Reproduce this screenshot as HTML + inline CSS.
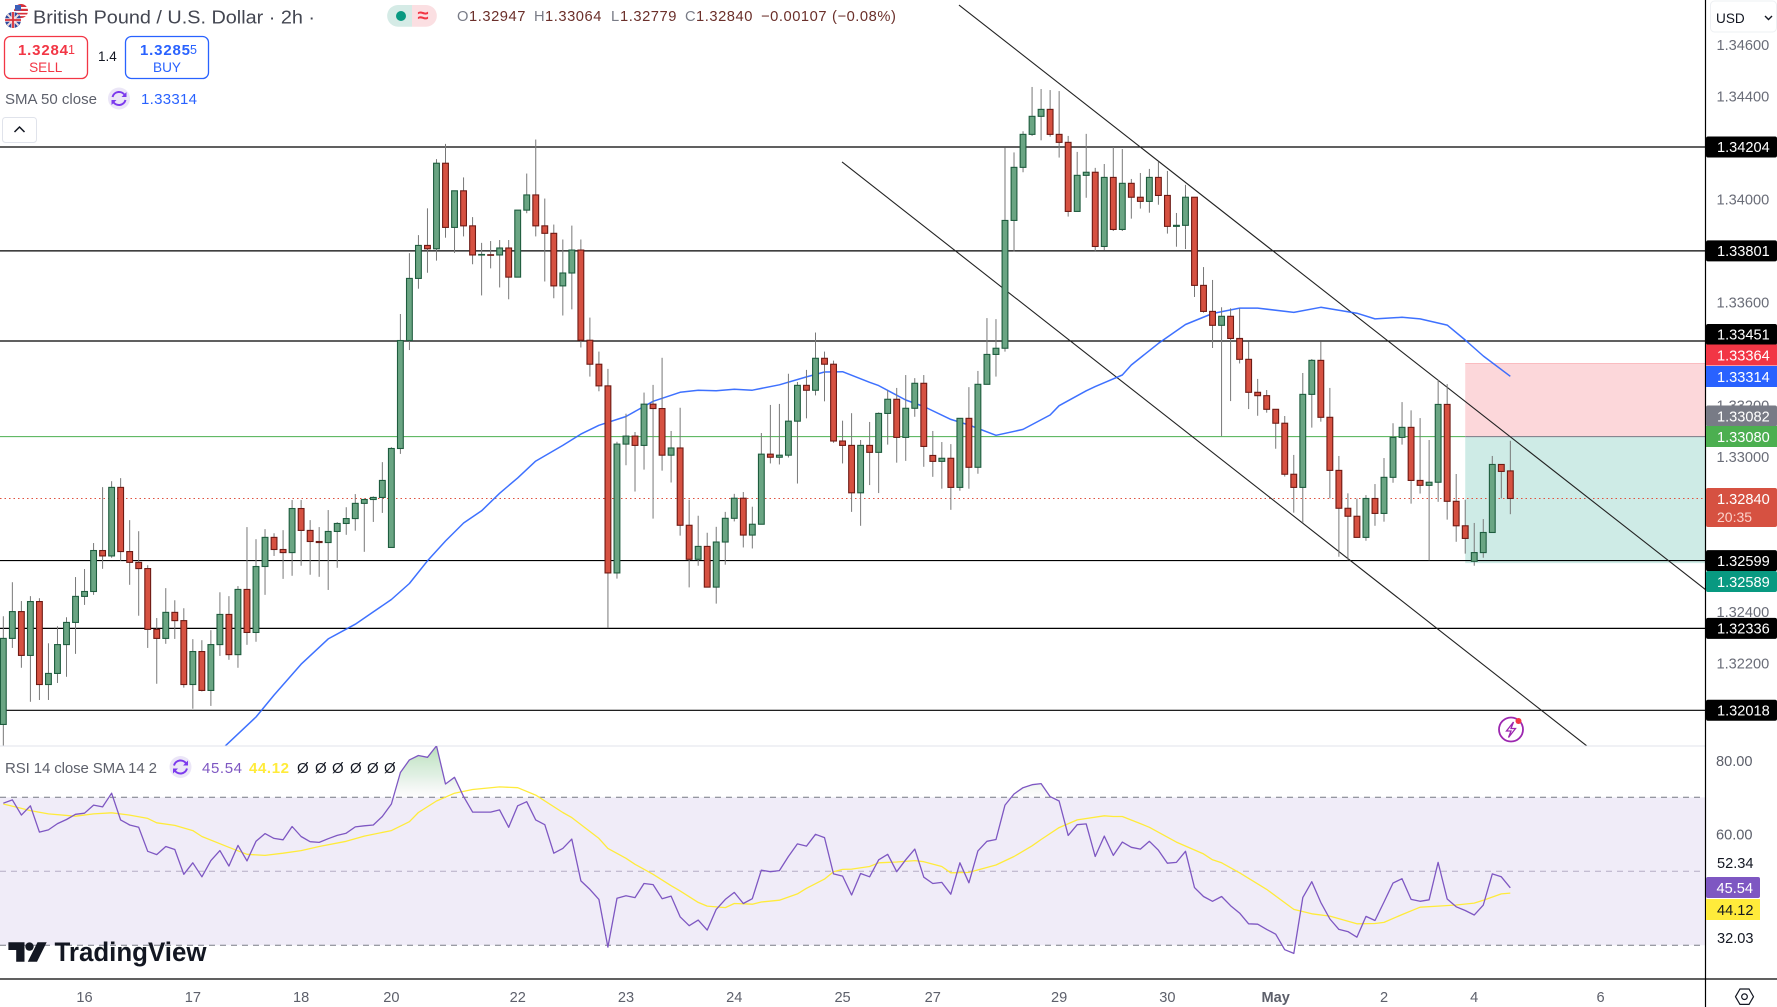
<!DOCTYPE html>
<html lang="en">
<head>
<meta charset="utf-8">
<title>British Pound / U.S. Dollar 2h chart</title>
<style>
html,body{margin:0;padding:0;background:#fff;width:1777px;height:1007px;overflow:hidden}
svg{display:block;font-family:"Liberation Sans",sans-serif}
text{font-family:"Liberation Sans",sans-serif}
</style>
</head>
<body>
<svg id="chart" xmlns="http://www.w3.org/2000/svg" width="1777" height="1007" viewBox="0 0 1777 1007">
  <defs>
    <clipPath id="mainClip"><rect x="0" y="0" width="1705" height="746"/></clipPath>
    <clipPath id="rsiClip"><rect x="0" y="746" width="1705" height="233"/></clipPath>
    <clipPath id="obClip"><rect x="0" y="746" width="1705" height="51"/></clipPath>
    <linearGradient id="obGrad" gradientUnits="userSpaceOnUse" x1="0" y1="748" x2="0" y2="797">
      <stop offset="0" stop-color="#4caf50" stop-opacity="0.38"/>
      <stop offset="0.55" stop-color="#8fc99a" stop-opacity="0.28"/>
      <stop offset="1" stop-color="#bbbbbb" stop-opacity="0.03"/>
    </linearGradient>
  </defs>
  <rect x="0" y="0" width="1777" height="1007" fill="#ffffff"/>

  <g id="mainUnder" clip-path="url(#mainClip)"></g>
  <g id="mainCandles" clip-path="url(#mainClip)"></g>

  <line x1="0" y1="746" x2="1705" y2="746" stroke="#e0e3eb" stroke-width="1"/>
  <g id="rsiPane"></g>

  <line x1="0" y1="979" x2="1777" y2="979" stroke="#000" stroke-width="1.2"/>
  <line x1="1705.5" y1="0" x2="1705.5" y2="1007" stroke="#000" stroke-width="1.2"/>

  <g id="priceAxis"></g>
  <g id="timeAxis"></g>

  <!-- static axis tags -->
  <g><rect x="1706" y="344.5" width="71" height="21" fill="#f23645"/><text x="1717" y="360.5" font-size="14.6" fill="#fff">1.33364</text></g>
  <g><rect x="1706" y="366" width="71" height="21" fill="#2962ff"/><text x="1717" y="382" font-size="14.6" fill="#fff">1.33314</text></g>
  <g><rect x="1706" y="405.5" width="71" height="21" rx="2" fill="#787b86"/><text x="1717" y="421.5" font-size="14.6" fill="#fff">1.33082</text></g>
  <g><rect x="1706" y="426" width="71" height="21" fill="#4caf50"/><text x="1717" y="442" font-size="14.6" fill="#fff">1.33080</text></g>
  <g><rect x="1706" y="488" width="71" height="39" rx="2" fill="#d65141"/><text x="1717" y="504" font-size="14.6" fill="#fff">1.32840</text><text x="1717" y="522" font-size="14" fill="#fbd3cc">20:35</text></g>
  <g><rect x="1706" y="571" width="71" height="21" rx="2" fill="#089981"/><text x="1717" y="587" font-size="14.6" fill="#fff">1.32589</text></g>

  <text x="1716" y="766" font-size="14.6" fill="#5d606b">80.00</text>
  <text x="1716" y="839.5" font-size="14.6" fill="#5d606b">60.00</text>
  <text x="1717" y="868" font-size="14.6" fill="#131722">52.34</text>
  <g><rect x="1706" y="877" width="54" height="21" rx="2" fill="#7e57c2"/><text x="1716.5" y="893" font-size="14.6" fill="#fff">45.54</text></g>
  <g><rect x="1706" y="899" width="54" height="21" fill="#ffeb3b"/><text x="1717" y="915" font-size="14.6" fill="#131722">44.12</text></g>
  <text x="1717" y="943" font-size="14.6" fill="#131722">32.03</text>

  <!-- header -->
  <g>
    <circle cx="21" cy="11" r="7" fill="#d8303a"/>
    <rect x="14" y="7" width="14" height="1.8" fill="#fff"/><rect x="14" y="11" width="14" height="1.8" fill="#fff"/><rect x="15" y="14.5" width="12" height="1.6" fill="#fff"/>
    <rect x="15" y="5" width="6" height="5.5" fill="#3d5fb8"/>
    <circle cx="13" cy="20" r="8" fill="#2c4a9e"/>
    <path d="M7.5 14.5 L18.5 25.5 M18.5 14.5 L7.5 25.5" stroke="#f3dadc" stroke-width="2"/>
    <path d="M13 12 V28 M5 20 H21" stroke="#f3dadc" stroke-width="3.4"/>
    <path d="M13 12 V28 M5 20 H21" stroke="#d8303a" stroke-width="1.8"/>
  </g>
  <text x="33" y="23.5" font-size="18.8" fill="#434651" textLength="282" lengthAdjust="spacingAndGlyphs">British Pound / U.S. Dollar · 2h ·</text>

  <g>
    <path d="M398 5 H412 V26.7 H398 A10.8 10.8 0 0 1 398 5 Z" fill="#d5ebe6"/>
    <path d="M412 5 H426 A10.8 10.8 0 0 1 426 26.7 H412 Z" fill="#fbdfe2"/>
    <circle cx="401" cy="16" r="5" fill="#089981"/>
    <text x="423" y="22" font-size="20" font-weight="700" fill="#f23645" text-anchor="middle">≈</text>
  </g>

  <g font-size="14.7" letter-spacing="0.55">
    <text x="457" y="21" fill="#787b86">O</text><text x="469" y="21" fill="#6b2f2a">1.32947</text>
    <text x="534" y="21" fill="#787b86">H</text><text x="545" y="21" fill="#6b2f2a">1.33064</text>
    <text x="611" y="21" fill="#787b86">L</text><text x="620" y="21" fill="#6b2f2a">1.32779</text>
    <text x="685" y="21" fill="#787b86">C</text><text x="696" y="21" fill="#6b2f2a">1.32840</text>
    <text x="761" y="21" fill="#6b2f2a">−0.00107</text>
    <text x="832" y="21" fill="#6b2f2a">(−0.08%)</text>
  </g>

  <g>
    <rect x="4.5" y="36.5" width="83" height="42" rx="6" fill="#fff" stroke="#f23645" stroke-width="1.3"/>
    <text x="18" y="55" font-size="15" fill="#f23645" font-weight="700" textLength="50" lengthAdjust="spacing">1.3284</text>
    <text x="68" y="54" font-size="12.5" fill="#f23645">1</text>
    <text x="45.7" y="72" font-size="13.6" fill="#f23645" text-anchor="middle">SELL</text>
  </g>
  <text x="98" y="61" font-size="13.5" fill="#131722">1.4</text>
  <g>
    <rect x="125.5" y="36.5" width="83" height="42" rx="6" fill="#fff" stroke="#2962ff" stroke-width="1.3"/>
    <text x="140" y="55" font-size="15" fill="#2962ff" font-weight="700" textLength="50" lengthAdjust="spacing">1.3285</text>
    <text x="190" y="54" font-size="12.5" fill="#2962ff">5</text>
    <text x="167" y="72" font-size="13.6" fill="#2962ff" text-anchor="middle">BUY</text>
  </g>

  <text x="5" y="104" font-size="15" fill="#5d606b" textLength="92" lengthAdjust="spacing">SMA 50 close</text>
  <g>
    <circle cx="119" cy="98.5" r="11" fill="#ebe6f7"/>
    <path d="M112.5 97 A6.8 6.8 0 0 1 125 95.5 M125.5 100 A6.8 6.8 0 0 1 113 101.5" fill="none" stroke="#7c3aed" stroke-width="2"/>
    <path d="M126.5 92 V97 H121.5 Z M111.5 105 V100 H116.5 Z" fill="#7c3aed"/>
  </g>
  <text x="141" y="104" font-size="15" fill="#2962ff" textLength="56" lengthAdjust="spacing">1.33314</text>

  <g>
    <rect x="2.5" y="117.5" width="34" height="25" rx="3" fill="#fff" stroke="#e0e3eb" stroke-width="1"/>
    <path d="M14.5 132 L19.5 127 L24.5 132" fill="none" stroke="#131722" stroke-width="1.5"/>
  </g>

  <g>
    <rect x="1710.5" y="1" width="66" height="31" rx="4" fill="#fff" stroke="#eef0f3" stroke-width="1"/>
    <text x="1716" y="23" font-size="13.6" fill="#131722">USD</text>
    <path d="M1765 16 L1768.5 19.5 L1772 16" fill="none" stroke="#131722" stroke-width="1.4"/>
  </g>

  <g>
    <circle cx="1511" cy="729.5" r="12" fill="#fff" stroke="#9c27b0" stroke-width="1.8"/>
    <path d="M1513.5 722 L1506.5 731 H1511 L1508.5 737.5 L1515.5 728.5 H1511 Z" fill="none" stroke="#9c27b0" stroke-width="1.3"/>
    <circle cx="1518.5" cy="721" r="3" fill="#f23645"/>
  </g>

  <!-- RSI legend -->
  <text x="5" y="773" font-size="15" fill="#5d606b" textLength="152" lengthAdjust="spacing">RSI 14 close SMA 14 2</text>
  <g>
    <circle cx="180.5" cy="767" r="11" fill="#ebe6f7"/>
    <path d="M174 765.5 A6.8 6.8 0 0 1 186.5 764 M187 768.5 A6.8 6.8 0 0 1 174.5 770" fill="none" stroke="#7c3aed" stroke-width="2"/>
    <path d="M188 760.5 V765.5 H183 Z M173 773.5 V768.5 H178 Z" fill="#7c3aed"/>
  </g>
  <text x="202" y="773" font-size="15" fill="#7e57c2" textLength="40" lengthAdjust="spacing">45.54</text>
  <text x="249" y="773" font-size="15" font-weight="700" fill="#ffeb3b" textLength="40" lengthAdjust="spacing">44.12</text>
  <g font-size="15" fill="#131722">
    <text x="297" y="773">Ø</text><text x="315" y="773">Ø</text><text x="332" y="773">Ø</text><text x="350" y="773">Ø</text><text x="367" y="773">Ø</text><text x="384" y="773">Ø</text>
  </g>

  <!-- logo -->
  <g>
    <path d="M8.4 942.3 H24.5 V961.7 H16.2 V950 H8.4 Z" fill="#131722"/>
    <circle cx="29.5" cy="946.6" r="4.2" fill="#131722"/>
    <path d="M37.5 942.3 H46.7 L37 961.7 H27.8 Z" fill="#131722"/>
    <text x="54.5" y="961" font-size="27" font-weight="700" fill="#131722" textLength="152" lengthAdjust="spacingAndGlyphs">TradingView</text>
  </g>

  <g>
    <path d="M1735.5 996.7 L1740 989 H1749 L1753.5 996.7 L1749 1004.4 H1740 Z" fill="#fff" stroke="#131722" stroke-width="1.2"/>
    <circle cx="1744.5" cy="996.7" r="2.8" fill="#fff" stroke="#131722" stroke-width="1.2"/>
  </g>
</svg>

<script>
// OHLC data per 2h bar, in price points (1 point = 0.00001)
const opens = [131963,132297,132401,132231,132440,132118,132161,132273,132359,132460,
132479,132638,132617,132883,132634,132592,132568,132332,132297,132398,
132366,132118,132246,132095,132273,132390,132234,132487,132320,132576,
132689,132642,132630,132801,132716,132673,132669,132712,132743,132762,
132821,132836,132844,132650,133034,133453,133694,133822,133809,134141,
133892,134034,133898,133785,133786,133785,133812,133699,133959,134018,
133898,133869,133665,133715,133804,133454,133361,133277,132551,133051,
133082,133046,133206,133189,133008,133036,132736,132604,132654,132496,
132671,132763,132841,132698,132740,133012,133000,133008,133140,133279,
133260,133384,133361,133063,133046,132862,133046,133019,133170,133225,
133077,133190,133287,133007,132984,132996,132883,133151,132961,133283,
133399,133423,133919,134125,134253,134323,134350,134253,134222,133954,
134094,134106,133818,134086,133884,134063,134009,133993,134086,134016,
133896,133900,134009,133667,133566,133512,133547,133461,133380,133252,
133239,133186,133132,132934,132883,133244,133376,133155,132949,132802,
132771,132689,132840,132782,132922,133077,133116,132910,132891,132903,
133205,132829,132734,132596,132630,132708,132972,132947];
const highs = [132383,132515,132442,132461,132453,132278,132344,132379,132535,132566,
132667,132884,132907,132919,132756,132713,132581,132376,132492,132445,
132414,132294,132290,132329,132476,132461,132500,132729,132682,132721,
132705,132717,132834,132834,132756,132729,132795,132748,132806,132857,
132840,132848,132981,133039,133556,133792,133862,133966,134157,134216,
134034,134086,133932,133832,133839,133843,133843,133959,134101,134233,
134004,133903,133845,133899,133845,133542,133410,133343,133060,133169,
133098,133251,133281,133386,133102,133192,132835,132773,132707,132730,
132788,132858,132865,132808,133094,133203,133207,133324,133292,133339,
133484,133410,133375,133142,133171,133067,133137,133174,133261,133269,
133319,133307,133319,133102,133059,133051,133151,133272,133335,133540,
133536,134203,134183,134265,134437,134429,134425,134421,134247,134185,
134255,134123,134138,134204,134196,134080,134103,134119,134146,134111,
133948,134057,134009,133738,133688,133582,133578,133578,133450,133304,
133261,133186,133160,133009,133327,133381,133450,133269,133005,132860,
132840,132853,132896,132997,133132,133214,133182,133152,133067,133300,
133284,132935,132835,132745,132760,133005,132972,133064];
const lows = [131860,132260,132183,132051,132058,132058,132124,132148,132237,132427,
132466,132567,132610,132598,132505,132385,132260,132121,132276,132295,
132106,132024,132091,132035,132229,132214,132183,132272,132284,132466,
132617,132528,132540,132579,132544,132536,132485,132571,132699,132715,
132633,132749,132784,132650,133013,133416,133654,133716,133763,133852,
133793,133857,133749,133628,133733,133659,133613,133699,133947,133857,
133682,133617,133550,133574,133426,133313,133256,132337,132529,132969,
132867,132952,132762,132948,132902,132696,132495,132579,132496,132432,
132583,132751,132650,132646,132740,132976,132972,132999,132898,133151,
133240,133217,133056,132976,132788,132734,132892,132861,133049,132979,
132986,133157,132963,132924,132878,132796,132870,132878,132936,133283,
133313,133410,133799,134106,134247,134230,134244,134163,133934,133954,
134007,133800,133804,133878,133878,133926,133965,133949,133980,133868,
133817,133808,133622,133561,133424,133082,133218,133364,133187,133161,
133173,133033,132925,132785,132745,133115,133138,132840,132614,132600,
132689,132676,132734,132750,132901,133049,132820,132859,132600,132827,
132758,132672,132626,132579,132610,132708,132840,132779];
const closes = [132297,132401,132231,132440,132118,132161,132273,132359,132460,132479,
132638,132617,132883,132634,132592,132568,132332,132297,132398,132366,
132118,132246,132095,132273,132390,132234,132487,132320,132576,132689,
132642,132630,132801,132716,132673,132669,132712,132743,132762,132821,
132836,132844,132910,133034,133453,133694,133822,133809,134141,133892,
134034,133898,133785,133787,133784,133812,133699,133959,134018,133898,
133869,133665,133715,133804,133454,133361,133277,132551,133051,133082,
133046,133206,133189,133008,133036,132736,132604,132654,132496,132671,
132763,132841,132698,132740,133012,133000,133008,133140,133279,133260,
133384,133361,133063,133046,132862,133046,133019,133170,133225,133077,
133190,133287,133042,132984,132996,132883,133151,132961,133283,133399,
133423,133919,134125,134253,134323,134350,134253,134222,133954,134094,
134106,133818,134086,133884,134063,134009,133993,134086,134016,133896,
133900,134009,133667,133566,133512,133547,133461,133380,133252,133239,
133186,133132,132934,132883,133244,133376,133155,132949,132802,132771,
132689,132840,132782,132922,133077,133116,132910,132891,132903,133205,
132829,132734,132685,132630,132708,132972,132945,132840];

// SMA 50 read at selected bars
const smaBars = [24,28,30,33,36,39,41,43,45,47,49,51,53,55,57,59,62,64,66,69,72,75,77,79,81,83,86,89,91,93,96,97,100,102,105,107,110,113,116,117,120,121,124,125,128,131,134,137,139,143,146,150,152,155,157,160,162,164,167];
const smaValues = [131860,131992,132077,132197,132295,132352,132400,132448,132510,132598,132675,132745,132792,132860,132920,132985,133046,133090,133124,133158,133217,133252,133260,133258,133264,133260,133281,133312,133331,133332,133291,133278,133222,133197,133147,133125,133085,133108,133164,133200,133258,133274,133319,133358,133442,133515,133558,133579,133579,133562,133582,133559,133537,133543,133537,133513,133455,133393,133314];

// RSI 14 per bar
const rsiValues = [68.4,69.3,65.2,67.7,60.6,61.2,62.9,64.0,65.4,65.7,
67.9,67.4,71.1,63.9,62.5,61.9,55.4,54.5,56.7,55.9,
49.2,52.3,48.5,52.9,55.6,51.4,57.0,52.8,58.1,60.2,
58.9,58.5,62.1,59.4,58.0,57.8,58.8,59.7,60.3,62.0,
62.3,62.5,64.8,68.2,76.7,80.1,81.3,80.8,83.9,73.6,
75.4,70.2,66.0,66.0,66.0,66.6,61.9,67.7,68.8,63.9,
62.6,54.9,56.2,58.7,47.4,45.1,42.4,29.5,42.7,43.4,
42.9,46.7,46.4,42.6,43.3,37.7,35.3,36.8,34.1,39.7,
42.4,44.3,41.3,42.6,50.3,49.9,50.2,54.0,57.4,56.8,
60.0,59.1,49.3,48.7,43.6,49.4,48.5,53.1,54.6,49.9,
53.1,56.0,48.4,46.7,47.0,43.8,52.3,46.9,55.5,58.1,
58.6,67.9,70.9,72.6,73.4,73.7,70.2,69.0,59.7,62.6,
62.8,54.0,59.5,54.3,57.9,56.5,56.0,58.1,55.7,52.2,
52.4,55.4,45.6,43.2,41.9,43.2,40.7,38.7,35.8,35.7,
34.3,33.0,28.8,27.8,42.9,47.2,41.6,37.1,34.3,33.7,
32.2,37.8,36.7,41.7,46.8,48.0,42.4,41.9,42.3,52.4,
42.5,40.4,39.4,38.2,40.9,49.3,48.5,45.54];

// RSI smoothing line read at selected bars
const rsiMaBars = [0,2,3,5,8,10,12,14,16,17,19,21,22,25,27,29,31,33,35,38,40,43,45,46,48,50,52,55,57,59,62,63,66,67,69,70,72,74,75,77,78,80,81,83,84,86,88,89,91,92,93,94,96,97,99,101,102,104,105,107,110,112,114,115,117,119,122,123,124,126,127,130,133,134,135,137,140,143,145,147,150,152,153,155,157,159,161,163,164,166,167];
const rsiMaValues = [68.2,67.0,66.4,65.5,64.9,65.5,65.8,65.2,64.3,63.1,62.4,61.0,59.4,56.5,54.6,54.3,54.9,55.6,56.7,58.1,59.5,61.0,63.4,65.9,69.0,71.1,72.1,72.8,72.6,70.6,65.9,64.5,58.9,56.2,53.5,51.9,49.2,46.1,44.7,41.6,40.6,40.2,41.3,41.1,41.7,42.2,43.9,45.4,47.9,49.9,50.5,50.6,51.3,52.3,52.5,52.9,52.6,51.3,49.6,49.7,51.7,54.0,56.9,58.6,61.8,63.9,65.0,64.8,64.8,62.9,61.9,57.9,54.7,53.1,52.3,49.6,45.1,39.7,38.5,37.9,35.8,35.9,36.2,38.3,40.3,40.6,40.9,41.4,42.2,43.9,44.12];

// Horizontal levels, trendlines, position tool, axes
const levelPrices = [134204,133801,133451,132599,132336,132018];
const entryPrice = 133080;
const stopPrice = 133364;
const targetPrice = 132589;
const positionStartBar = 162;
const lastPrice = 132840;
const trendUpperBars = [105.9,188.6];
const trendUpperPrices = [134755,132487];
const trendLowerBars = [92.94,175.5];
const trendLowerPrices = [134146,131879];
const priceTicks = [134600,134400,134200,134000,133800,133600,133400,133200,133000,132800,132600,132400,132200];
const timeBars = [9,21,33,43,57,69,81,93,103,117,129,141,153,163,177];
const timeLabels = ['16','17','18','20','22','23','24','25','27','29','30','May','2','4','6'];
const rsiLevels = [70,50,30];

const NS = 'http://www.w3.org/2000/svg';
function xAt(bar){ return 3.33 + 9.024 * bar; }
function yAt(points){ return 147 + (134204 - points) * 0.25768; }
function yRsi(r){ return 871.3 - (r - 50) * 3.7; }
function mk(tag, parent, attrs){
  const el = document.createElementNS(NS, tag);
  for (const k in attrs) el.setAttribute(k, attrs[k]);
  parent.appendChild(el);
  return el;
}
function fmt(points){ return (points / 100000).toFixed(5); }

const under = document.getElementById('mainUnder');
const candles = document.getElementById('mainCandles');
const priceAxis = document.getElementById('priceAxis');
const timeAxis = document.getElementById('timeAxis');
const rsiPane = document.getElementById('rsiPane');

// position tool
const xBox = xAt(positionStartBar);
const riskBox = mk('rect', under, {x:xBox, y:yAt(stopPrice), width:1705-xBox, height:yAt(entryPrice)-yAt(stopPrice), fill:'#f23645', 'fill-opacity':'0.2'});


const rewardBox = mk('rect', under, {x:xBox, y:yAt(entryPrice), width:1705-xBox, height:yAt(targetPrice)-yAt(entryPrice), fill:'#089981', 'fill-opacity':'0.2'});


const stopEdge = mk('line', under, {x1:xBox, x2:1705, y1:yAt(stopPrice), y2:yAt(stopPrice), stroke:'#f23645', 'stroke-opacity':'0.25', 'stroke-width':'1'});



// entry line
const entryLine = mk('line', under, {x1:0, x2:xBox, y1:yAt(entryPrice), y2:yAt(entryPrice), stroke:'#4caf50', 'stroke-width':'1'});


const entryInner = mk('line', under, {x1:xBox, x2:1705, y1:yAt(entryPrice), y2:yAt(entryPrice), stroke:'#787b86', 'stroke-width':'1'});



// last price line
const lastLine = mk('line', under, {x1:0, x2:1705, y1:yAt(lastPrice), y2:yAt(lastPrice), stroke:'#e0523f', 'stroke-width':'1', 'stroke-dasharray':'1.5 3'});



// horizontal support/resistance lines
levelPrices.forEach(function(p){
  const ln = mk('line', under, {x1:0, x2:1705, y1:yAt(p), y2:yAt(p), stroke:'#000', 'stroke-width':'1.2'});
  
  
});

// trendlines
const upperTrend = mk('line', under, {x1:xAt(trendUpperBars[0]), y1:yAt(trendUpperPrices[0]), x2:xAt(trendUpperBars[1]), y2:yAt(trendUpperPrices[1]), stroke:'#222', 'stroke-width':'1.1'});


const lowerTrend = mk('line', under, {x1:xAt(trendLowerBars[0]), y1:yAt(trendLowerPrices[0]), x2:xAt(trendLowerBars[1]), y2:yAt(trendLowerPrices[1]), stroke:'#222', 'stroke-width':'1.1'});



// SMA
const smaPts = smaBars.map(function(b, i){ return xAt(b).toFixed(1) + ',' + yAt(smaValues[i]).toFixed(1); }).join(' ');
const smaLine = mk('polyline', under, {points:smaPts, fill:'none', stroke:'#2962ff', 'stroke-width':'1.5', 'stroke-linejoin':'round', 'stroke-opacity':'0.9'});



// candles
opens.forEach(function(o, i){
  const c = closes[i];
  const up = c >= o;
  const cx = xAt(i);
  const wick = mk('line', candles, {x1:cx, x2:cx, y1:yAt(highs[i]), y2:yAt(lows[i]), stroke:'#787878', 'stroke-width':'1'});
  
  
  const top = yAt(Math.max(o, c));
  const bot = yAt(Math.min(o, c));
  const body = mk('rect', candles, {x:cx-2.9, y:top, width:5.8, height:Math.max(bot-top, 0.6), fill:up?'#6aa583':'#d65141', stroke:up?'#1e5c3e':'#6e1a14', 'stroke-width':'1.1'});
  
  
});

// price ticks
priceTicks.forEach(function(p){
  const t = mk('text', priceAxis, {x:1716.5, y:yAt(p)+5, 'font-size':'14.6', fill:'#6a6d78'});
  t.textContent = fmt(p);
  
  
});

// level tags (the tag next to the stop label sits just above its line, pushed up by the axis)
levelPrices.forEach(function(p){
  const y = yAt(p) - (Math.abs(yAt(p) - yAt(stopPrice)) < 24 ? 6.5 : 0);
  const tag = mk('rect', priceAxis, {x:1706, y:y-10.5, width:71, height:21, rx:2, fill:'#000'});
  
  
  const t = mk('text', priceAxis, {x:1717, y:y+5.2, 'font-size':'14.6', fill:'#fff'});
  t.textContent = fmt(p);
  
  
});

// time axis
timeBars.forEach(function(b, i){
  const attrs = {x:xAt(b), y:1002, 'font-size':'14.6', fill:'#5d606b', 'text-anchor':'middle'};
  if (timeLabels[i] === 'May') attrs['font-weight'] = '700';
  const t = mk('text', timeAxis, attrs);
  t.textContent = timeLabels[i];
  
  
});

// RSI pane
const band = mk('rect', rsiPane, {x:0, y:yRsi(rsiLevels[0]), width:1705, height:yRsi(rsiLevels[2])-yRsi(rsiLevels[0]), fill:'#7e57c2', 'fill-opacity':'0.115'});


rsiLevels.forEach(function(r, i){
  const ln = mk('line', rsiPane, {x1:0, x2:1705, y1:yRsi(r), y2:yRsi(r), stroke:i===1?'#b4acc4':'#787b86', 'stroke-width':'1', 'stroke-dasharray':'6 5'});
  
  
});
const rsiPts = rsiValues.map(function(r, i){ return [xAt(i), yRsi(r)]; });
const obD = 'M' + rsiPts.map(function(p){ return p[0].toFixed(1) + ' ' + p[1].toFixed(1); }).join(' L') + ' L' + rsiPts[rsiPts.length-1][0].toFixed(1) + ' ' + yRsi(70) + ' L' + rsiPts[0][0].toFixed(1) + ' ' + yRsi(70) + ' Z';
const obFill = mk('path', rsiPane, {d:obD, fill:'url(#obGrad)', 'clip-path':'url(#obClip)'});


const rsiGroup = mk('g', rsiPane, {'clip-path':'url(#rsiClip)'});


const rsiMaPts = rsiMaBars.map(function(b, i){ return xAt(b).toFixed(1) + ',' + yRsi(rsiMaValues[i]).toFixed(1); }).join(' ');
const rsiMaLine = mk('polyline', rsiGroup, {points:rsiMaPts, fill:'none', stroke:'#ffeb3b', 'stroke-width':'1.3', 'stroke-linejoin':'round'});


const rsiLine = mk('polyline', rsiGroup, {points:rsiPts.map(function(p){ return p[0].toFixed(1) + ',' + p[1].toFixed(1); }).join(' '), fill:'none', stroke:'#7e57c2', 'stroke-width':'1.3', 'stroke-linejoin':'round'});


</script>
</body>
</html>
